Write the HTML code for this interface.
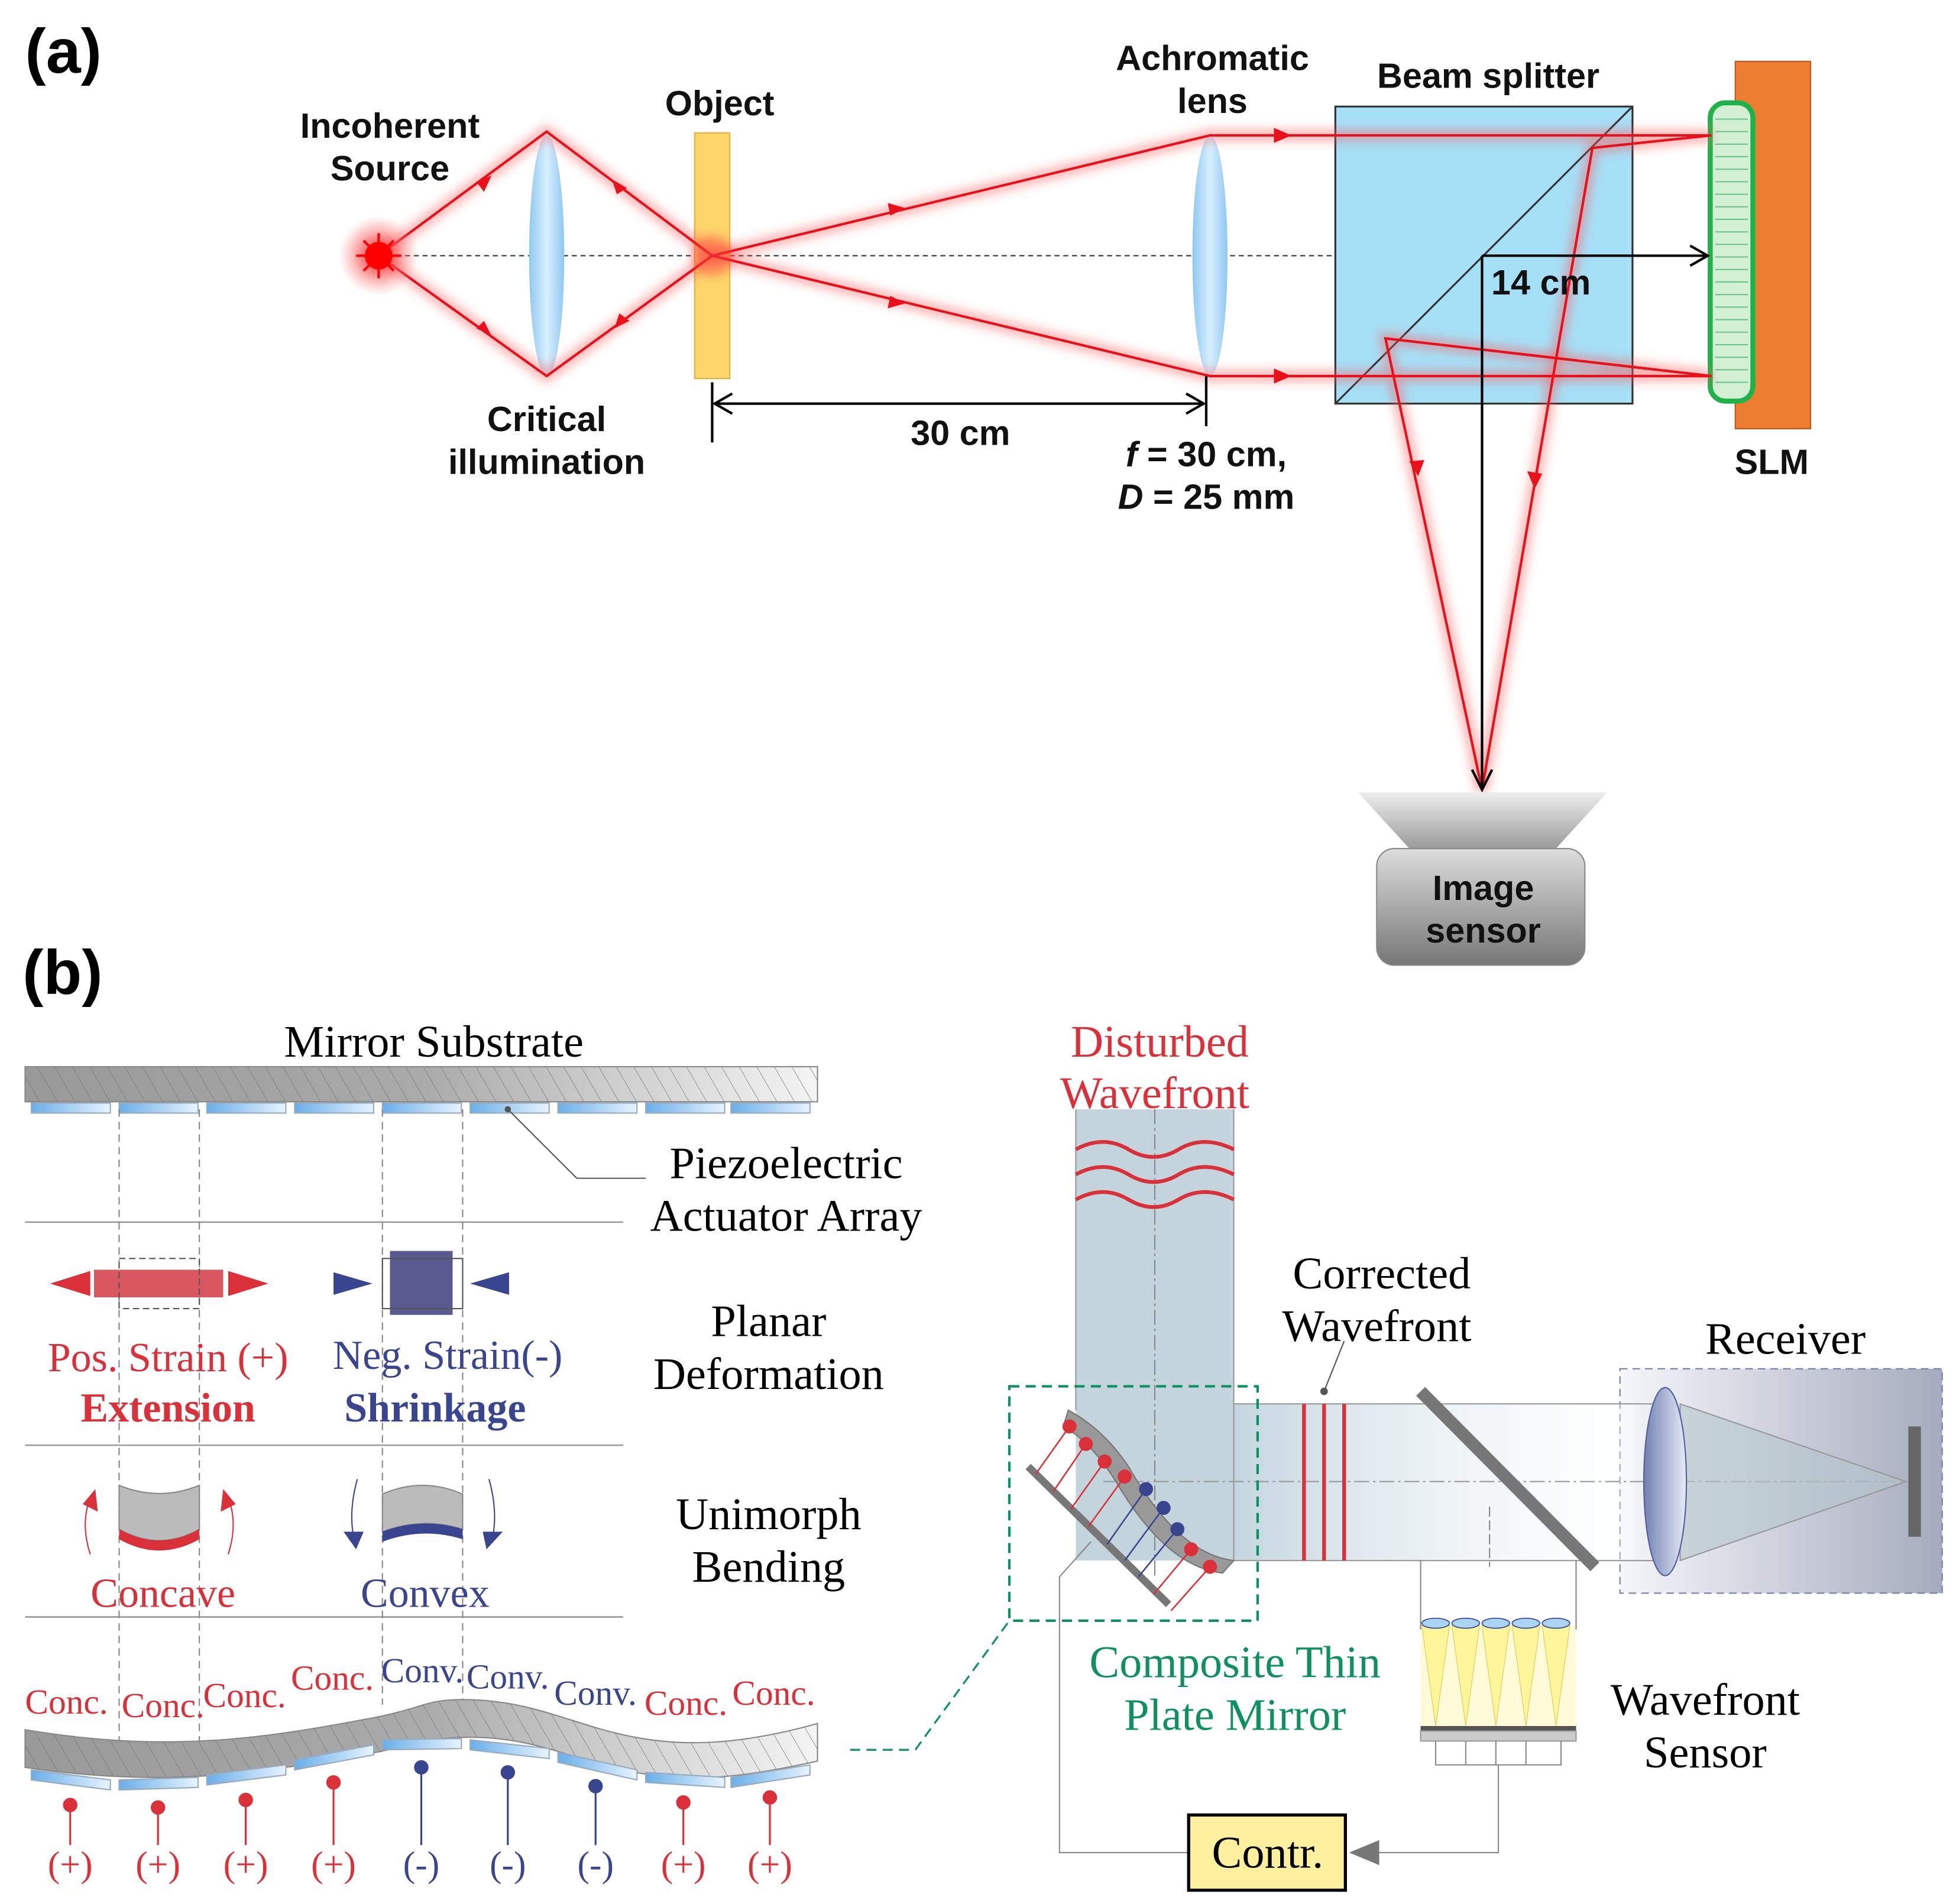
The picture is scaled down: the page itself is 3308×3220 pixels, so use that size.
<!DOCTYPE html>
<html><head><meta charset="utf-8"><style>html,body{margin:0;padding:0;background:#fff}svg{display:block}</style></head>
<body>
<svg width="3308" height="3220" viewBox="0 0 1560 1519" preserveAspectRatio="none" xmlns="http://www.w3.org/2000/svg">
<defs>
<filter id="glow" x="-20%" y="-20%" width="140%" height="140%"><feGaussianBlur stdDeviation="4"/></filter>
<radialGradient id="src"><stop offset="0" stop-color="#f00"/><stop offset="0.5" stop-color="#f55" stop-opacity="0.6"/><stop offset="1" stop-color="#f88" stop-opacity="0"/></radialGradient>
<linearGradient id="lens" x1="0" x2="1"><stop offset="0" stop-color="#8fc8f0"/><stop offset="0.5" stop-color="#d8f0ff"/><stop offset="1" stop-color="#8fc8f0"/></linearGradient>
<linearGradient id="sens" x1="0" y1="0" x2="0" y2="1"><stop offset="0" stop-color="#ddd"/><stop offset="1" stop-color="#777"/></linearGradient>
<linearGradient id="sens2" x1="0" y1="0" x2="0" y2="1"><stop offset="0" stop-color="#eee"/><stop offset="1" stop-color="#999"/></linearGradient>
<linearGradient id="sub" x1="0" x2="1"><stop offset="0" stop-color="#999"/><stop offset="0.5" stop-color="#aaa"/><stop offset="1" stop-color="#f4f4f4"/></linearGradient>
<linearGradient id="act" x1="0" x2="1"><stop offset="0" stop-color="#6aaee8"/><stop offset="1" stop-color="#e8f4ff"/></linearGradient>
<pattern id="hatch" width="14" height="30" patternUnits="userSpaceOnUse" patternTransform="skewX(30)"><line x1="0" y1="0" x2="0" y2="30" stroke="#777" stroke-width="0.8"/></pattern>
<linearGradient id="beam" x1="0" x2="1"><stop offset="0" stop-color="#c4d6e0"/><stop offset="1" stop-color="#ffffff" stop-opacity="0.3"/></linearGradient>
<linearGradient id="recv" x1="0" x2="1"><stop offset="0" stop-color="#f4f6fa"/><stop offset="1" stop-color="#a6abbd"/></linearGradient>
<linearGradient id="rlens" x1="0" x2="1"><stop offset="0" stop-color="#7080b0"/><stop offset="1" stop-color="#e8ecf8"/></linearGradient>
</defs>

<!-- ============ (a) ============ -->
<text x="20" y="58" font-family="Liberation Sans, sans-serif" font-weight="bold" font-size="50">(a)</text>
<line x1="302" y1="204" x2="1365" y2="204" stroke="#333" stroke-width="1" stroke-dasharray="4,3"/>
<ellipse cx="436" cy="204" rx="14" ry="96" fill="url(#lens)"/>
<ellipse cx="965" cy="204" rx="14" ry="96" fill="url(#lens)"/>
<rect x="554" y="106" width="28" height="196" fill="#fdd66b" stroke="#e0b040"/>
<rect x="1065" y="85" width="237" height="237" fill="#a6e0f7" stroke="#333" stroke-width="1.5"/>
<line x1="1065" y1="322" x2="1302" y2="85" stroke="#333" stroke-width="1.5"/>
<rect x="1384" y="49" width="60" height="293" fill="#ed7d31" stroke="#b85a20"/>
<rect x="1364" y="82" width="34" height="238" rx="12" fill="#d4f0d4" stroke="#1fb24a" stroke-width="4"/>
<g stroke="#6cc48a" stroke-width="1">
<line x1="1368" y1="95" x2="1394" y2="95"/><line x1="1368" y1="105" x2="1394" y2="105"/><line x1="1368" y1="115" x2="1394" y2="115"/><line x1="1368" y1="125" x2="1394" y2="125"/><line x1="1368" y1="135" x2="1394" y2="135"/><line x1="1368" y1="145" x2="1394" y2="145"/><line x1="1368" y1="155" x2="1394" y2="155"/><line x1="1368" y1="165" x2="1394" y2="165"/><line x1="1368" y1="175" x2="1394" y2="175"/><line x1="1368" y1="185" x2="1394" y2="185"/><line x1="1368" y1="195" x2="1394" y2="195"/><line x1="1368" y1="205" x2="1394" y2="205"/><line x1="1368" y1="215" x2="1394" y2="215"/><line x1="1368" y1="225" x2="1394" y2="225"/><line x1="1368" y1="235" x2="1394" y2="235"/><line x1="1368" y1="245" x2="1394" y2="245"/><line x1="1368" y1="255" x2="1394" y2="255"/><line x1="1368" y1="265" x2="1394" y2="265"/><line x1="1368" y1="275" x2="1394" y2="275"/><line x1="1368" y1="285" x2="1394" y2="285"/><line x1="1368" y1="295" x2="1394" y2="295"/><line x1="1368" y1="305" x2="1394" y2="305"/></g>
<g fill="none" stroke="#ff5050" stroke-width="9" stroke-opacity="0.45" filter="url(#glow)">
<polyline points="302,204 436,105 568,204 965,108 1365,108 1270,118 1182,630"/>
<polyline points="302,204 436,300 568,204 965,300 1365,300 1105,270 1182,630"/>
</g>
<g fill="none" stroke="#e8101a" stroke-width="2">
<polyline points="302,204 436,105 568,204 965,108 1365,108 1270,118 1182,630"/>
<polyline points="302,204 436,300 568,204 965,300 1365,300 1105,270 1182,630"/>
</g>
<g fill="#e8101a">
<polygon points="392,140 380,145 386,153"/><polygon points="500,150 488,143 492,155"/>
<polygon points="392,268 386,256 380,262"/><polygon points="502,256 490,262 494,250"/>
<polygon points="722,166 708,162 710,172"/><polygon points="722,242 710,236 708,246"/>
<polygon points="1030,108 1016,102 1016,114"/><polygon points="1030,300 1016,294 1016,306"/>
<polygon points="1224,390 1218,376 1230,378"/><polygon points="1131,380 1124,368 1136,367"/>
</g>
<circle cx="302" cy="204" r="32" fill="url(#src)"/>
<circle cx="302" cy="204" r="11" fill="#f00"/>
<g stroke="#f00" stroke-width="2"><line x1="302" y1="186" x2="302" y2="222"/><line x1="284" y1="204" x2="320" y2="204"/><line x1="290" y1="192" x2="314" y2="216"/><line x1="314" y1="192" x2="290" y2="216"/></g>
<circle cx="568" cy="204" r="16" fill="#ff4040" opacity="0.5" filter="url(#glow)"/>
<line x1="1182" y1="204" x2="1360" y2="204" stroke="#000" stroke-width="2"/>
<polyline points="1348,196 1362,204 1348,212" fill="none" stroke="#000" stroke-width="2"/>
<line x1="1182" y1="204" x2="1182" y2="628" stroke="#000" stroke-width="2"/>
<polyline points="1174,614 1182,630 1190,614" fill="none" stroke="#000" stroke-width="2"/>
<line x1="568" y1="305" x2="568" y2="353" stroke="#000" stroke-width="2"/>
<line x1="962" y1="300" x2="962" y2="340" stroke="#000" stroke-width="2"/>
<line x1="570" y1="322" x2="960" y2="322" stroke="#000" stroke-width="2"/>
<polyline points="584,314 570,322 584,330" fill="none" stroke="#000" stroke-width="2"/>
<polyline points="946,314 960,322 946,330" fill="none" stroke="#000" stroke-width="2"/>
<polygon points="1083,632 1282,632 1240,678 1125,678" fill="url(#sens2)"/>
<rect x="1098" y="677" width="166" height="93" rx="14" fill="url(#sens)" stroke="#888"/>
<g font-family="Liberation Sans, sans-serif" font-weight="bold" font-size="28" text-anchor="middle" fill="#111">
<text x="311" y="110">Incoherent</text><text x="311" y="144">Source</text>
<text x="574" y="92">Object</text>
<text x="967" y="56">Achromatic</text><text x="967" y="90">lens</text>
<text x="1187" y="70">Beam splitter</text>
<text x="436" y="344">Critical</text><text x="436" y="378">illumination</text>
<text x="766" y="355">30 cm</text>
<text x="1229" y="235">14 cm</text>
<text x="1413" y="378">SLM</text>
<text x="962" y="372"><tspan font-style="italic">f</tspan> = 30 cm,</text>
<text x="962" y="406"><tspan font-style="italic">D</tspan> = 25 mm</text>
<text x="1183" y="718">Image</text><text x="1183" y="752">sensor</text>
</g>

<!-- ============ (b) ============ -->
<text x="18" y="793" font-family="Liberation Sans, sans-serif" font-weight="bold" font-size="50">(b)</text>
<rect x="20" y="851" width="632" height="28" fill="url(#sub)" stroke="#888"/>
<rect x="20" y="851" width="632" height="28" fill="url(#hatch)"/>
<g fill="url(#act)" stroke="#9ab">
<rect x="25" y="880" width="63" height="8"/><rect x="95" y="880" width="63" height="8"/><rect x="165" y="880" width="63" height="8"/><rect x="235" y="880" width="63" height="8"/><rect x="305" y="880" width="63" height="8"/><rect x="375" y="880" width="63" height="8"/><rect x="445" y="880" width="63" height="8"/><rect x="515" y="880" width="63" height="8"/><rect x="583" y="880" width="63" height="8"/></g>
<polyline points="405,885 460,940 515,940" fill="none" stroke="#555"/>
<circle cx="405" cy="885" r="2.5" fill="#555"/>
<g stroke="#999" stroke-width="1.2"><line x1="20" y1="975" x2="497" y2="975"/><line x1="20" y1="1153" x2="497" y2="1153"/><line x1="20" y1="1290" x2="497" y2="1290"/></g>
<g stroke="#888" stroke-dasharray="6,4"><line x1="95" y1="885" x2="95" y2="1392"/><line x1="159" y1="885" x2="159" y2="1392"/><line x1="305" y1="885" x2="305" y2="1360"/><line x1="369" y1="885" x2="369" y2="1360"/></g>
<rect x="75" y="1013" width="103" height="22" fill="#d9575f"/>
<rect x="95" y="1004" width="64" height="40" fill="none" stroke="#555" stroke-dasharray="5,3"/>
<polygon points="40,1024 72,1014 72,1034" fill="#d9303a"/><polygon points="214,1024 182,1014 182,1034" fill="#d9303a"/>
<rect x="311" y="998" width="50" height="51" fill="#5a5a90"/>
<rect x="305" y="1004" width="64" height="40" fill="none" stroke="#555"/>
<polygon points="297,1024 266,1015 266,1033" fill="#3a4590"/><polygon points="375,1024 406,1015 406,1033" fill="#3a4590"/>
<path d="M95,1185 Q127,1198 159,1185 L159,1220 Q127,1238 95,1220 Z" fill="#bbb" stroke="#888"/>
<path d="M95,1220 Q127,1238 159,1220 L159,1228 Q127,1246 95,1228 Z" fill="#d9303a"/>
<path d="M72,1240 Q64,1215 72,1195" fill="none" stroke="#d9303a"/><polygon points="76,1188 66,1200 78,1206" fill="#d9303a"/>
<path d="M182,1240 Q190,1215 182,1195" fill="none" stroke="#d9303a"/><polygon points="178,1188 188,1200 176,1206" fill="#d9303a"/>
<path d="M305,1192 Q337,1178 369,1192 L369,1220 Q337,1210 305,1222 Z" fill="#bbb" stroke="#888"/>
<path d="M305,1222 Q337,1210 369,1220 L369,1228 Q337,1218 305,1230 Z" fill="#3a4590"/>
<path d="M285,1180 Q278,1205 282,1226" fill="none" stroke="#3a4590"/><polygon points="274,1222 290,1222 284,1236" fill="#3a4590"/>
<path d="M390,1180 Q397,1205 393,1226" fill="none" stroke="#3a4590"/><polygon points="385,1222 401,1222 388,1236" fill="#3a4590"/>
<path d="M20,1380 C140,1400 220,1385 300,1370 C340,1362 340,1355 375,1356 C440,1358 470,1386 540,1390 C580,1392 620,1384 652,1375 L652,1405 C620,1412 580,1420 540,1418 C470,1414 440,1386 375,1386 C340,1386 330,1392 300,1398 C220,1412 140,1428 20,1410 Z" fill="url(#sub)" stroke="#888"/>
<path d="M20,1380 C140,1400 220,1385 300,1370 C340,1362 340,1355 375,1356 C440,1358 470,1386 540,1390 C580,1392 620,1384 652,1375 L652,1405 C620,1412 580,1420 540,1418 C470,1414 440,1386 375,1386 C340,1386 330,1392 300,1398 C220,1412 140,1428 20,1410 Z" fill="url(#hatch)"/>
<g fill="url(#act)" stroke="#9ab">
<path d="M25,1412 L88,1420 L88,1428 L25,1420Z"/><path d="M95,1420 L158,1418 L158,1426 L95,1428Z"/><path d="M165,1416 L228,1408 L228,1416 L165,1424Z"/><path d="M235,1404 L298,1392 L298,1400 L235,1412Z"/><path d="M305,1388 L368,1387 L368,1395 L305,1396Z"/><path d="M375,1388 L438,1395 L438,1403 L375,1396Z"/><path d="M445,1398 L508,1412 L508,1420 L445,1406Z"/><path d="M515,1414 L578,1418 L578,1426 L515,1422Z"/><path d="M583,1418 L646,1408 L646,1416 L583,1426Z"/></g>
<g font-family="Liberation Serif, serif" font-size="28">
<text x="20" y="1367" fill="#d9303a">Conc.</text><text x="97" y="1370" fill="#d9303a">Conc.</text><text x="162" y="1362" fill="#d9303a">Conc.</text><text x="232" y="1348" fill="#d9303a">Conc.</text>
<text x="304" y="1342" fill="#3a4590">Conv.</text><text x="372" y="1347" fill="#3a4590">Conv.</text><text x="442" y="1360" fill="#3a4590">Conv.</text>
<text x="514" y="1368" fill="#d9303a">Conc.</text><text x="584" y="1360" fill="#d9303a">Conc.</text>
</g>
<g stroke-width="1.5">
<g stroke="#d9303a" fill="#d9303a"><line x1="56" y1="1440" x2="56" y2="1472"/><circle cx="56" cy="1440" r="5"/><line x1="126" y1="1442" x2="126" y2="1472"/><circle cx="126" cy="1442" r="5"/><line x1="196" y1="1436" x2="196" y2="1472"/><circle cx="196" cy="1436" r="5"/><line x1="266" y1="1422" x2="266" y2="1472"/><circle cx="266" cy="1422" r="5"/><line x1="545" y1="1438" x2="545" y2="1472"/><circle cx="545" cy="1438" r="5"/><line x1="614" y1="1434" x2="614" y2="1472"/><circle cx="614" cy="1434" r="5"/></g>
<g stroke="#3a4590" fill="#3a4590"><line x1="336" y1="1410" x2="336" y2="1472"/><circle cx="336" cy="1410" r="5"/><line x1="405" y1="1414" x2="405" y2="1472"/><circle cx="405" cy="1414" r="5"/><line x1="475" y1="1425" x2="475" y2="1472"/><circle cx="475" cy="1425" r="5"/></g>
</g>
<g font-family="Liberation Serif, serif" font-size="29" text-anchor="middle">
<text x="56" y="1497" fill="#d9303a">(+)</text><text x="126" y="1497" fill="#d9303a">(+)</text><text x="196" y="1497" fill="#d9303a">(+)</text><text x="266" y="1497" fill="#d9303a">(+)</text>
<text x="336" y="1497" fill="#3a4590">(-)</text><text x="405" y="1497" fill="#3a4590">(-)</text><text x="475" y="1497" fill="#3a4590">(-)</text>
<text x="545" y="1497" fill="#d9303a">(+)</text><text x="614" y="1497" fill="#d9303a">(+)</text>
</g>
<!-- right setup -->
<rect x="1292" y="1092" width="257" height="179" fill="url(#recv)" stroke="#7080a8" stroke-dasharray="6,4"/>
<rect x="858" y="885" width="126" height="360" fill="#c4d4dc"/>
<rect x="984" y="1120" width="320" height="125" fill="url(#beam)"/>
<g stroke="#999" fill="none"><line x1="984" y1="1120" x2="1330" y2="1120"/><line x1="984" y1="1245" x2="1330" y2="1245"/><line x1="858" y1="885" x2="858" y2="1125"/><line x1="984" y1="885" x2="984" y2="1245"/></g>
<line x1="921" y1="885" x2="921" y2="1260" stroke="#888" stroke-dasharray="12,3,2,3"/>
<line x1="880" y1="1182" x2="1520" y2="1182" stroke="#999" stroke-dasharray="12,3,2,3"/>
<g fill="none" stroke="#d9303a" stroke-width="3">
<path d="M858,917 Q880,905 900,917 T940,917 T984,917"/><path d="M858,937 Q880,925 900,937 T940,937 T984,937"/><path d="M858,957 Q880,945 900,957 T940,957 T984,957"/>
<line x1="1040" y1="1120" x2="1040" y2="1245"/><line x1="1056" y1="1120" x2="1056" y2="1245"/><line x1="1072" y1="1120" x2="1072" y2="1245"/></g>
<line x1="1056" y1="1110" x2="1072" y2="1070" stroke="#555"/><circle cx="1056" cy="1110" r="3" fill="#555"/>
<polygon points="1340,1120 1520,1182 1340,1245" fill="#b4c4cc" fill-opacity="0.6" stroke="#999"/>
<ellipse cx="1328" cy="1182" rx="17" ry="75" fill="url(#rlens)" stroke="#5060a0"/>
<rect x="1522" y="1138" width="10" height="88" fill="#666"/>
<line x1="1133" y1="1110" x2="1272" y2="1250" stroke="#777" stroke-width="10"/>
<path d="M852,1125 Q880,1140 900,1170 Q940,1240 984,1245 L975,1255 Q930,1250 890,1182 Q870,1150 848,1138Z" fill="#999" stroke="#777"/>
<line x1="820" y1="1170" x2="932" y2="1280" stroke="#777" stroke-width="6"/>
<g stroke-width="1.2">
<g stroke="#d9303a" fill="#d9303a"><line x1="853" y1="1138" x2="826" y2="1176"/><circle cx="853" cy="1138" r="5"/><line x1="866" y1="1152" x2="840" y2="1190"/><circle cx="866" cy="1152" r="5"/><line x1="881" y1="1166" x2="854" y2="1204"/><circle cx="881" cy="1166" r="5"/><line x1="897" y1="1178" x2="868" y2="1218"/><circle cx="897" cy="1178" r="5"/><line x1="950" y1="1236" x2="920" y2="1272"/><circle cx="950" cy="1236" r="5"/><line x1="965" y1="1250" x2="934" y2="1285"/><circle cx="965" cy="1250" r="5"/></g>
<g stroke="#3a4590" fill="#3a4590"><line x1="914" y1="1188" x2="883" y2="1232"/><circle cx="914" cy="1188" r="5"/><line x1="928" y1="1203" x2="897" y2="1245"/><circle cx="928" cy="1203" r="5"/><line x1="939" y1="1220" x2="908" y2="1258"/><circle cx="939" cy="1220" r="5"/></g>
</g>
<rect x="805" y="1106" width="198" height="187" fill="none" stroke="#109060" stroke-width="2" stroke-dasharray="8,5"/>
<polyline points="678,1396 730,1396 805,1293" fill="none" stroke="#109060" stroke-width="1.5" stroke-dasharray="8,5"/>
<g>
<rect x="1133" y="1297" width="124" height="80" fill="#fff8c8" opacity="0.7"/>
<g fill="#fff59a" stroke="#e0d060" stroke-width="0.6"><polygon points="1134,1297 1156,1297 1145,1377"/><polygon points="1158,1297 1180,1297 1169,1377"/><polygon points="1182,1297 1204,1297 1193,1377"/><polygon points="1206,1297 1228,1297 1217,1377"/><polygon points="1230,1297 1252,1297 1241,1377"/></g>
<g fill="#aad4f4" stroke="#3a4590" stroke-width="0.8"><ellipse cx="1145" cy="1295" rx="11" ry="4"/><ellipse cx="1169" cy="1295" rx="11" ry="4"/><ellipse cx="1193" cy="1295" rx="11" ry="4"/><ellipse cx="1217" cy="1295" rx="11" ry="4"/><ellipse cx="1241" cy="1295" rx="11" ry="4"/></g>
<rect x="1133" y="1377" width="124" height="4" fill="#555"/><rect x="1133" y="1381" width="124" height="8" fill="#ccc" stroke="#999"/>
<g stroke="#888" fill="none"><line x1="1133" y1="1245" x2="1133" y2="1300"/><line x1="1257" y1="1245" x2="1257" y2="1300"/><polyline points="1145,1389 1145,1408 1245,1408 1245,1389"/><line x1="1169" y1="1389" x2="1169" y2="1408"/><line x1="1193" y1="1389" x2="1193" y2="1408"/><line x1="1217" y1="1389" x2="1217" y2="1408"/><polyline points="1195,1408 1195,1478 1100,1478"/><polyline points="948,1478 845,1478 845,1258 870,1230"/><line x1="1188" y1="1202" x2="1188" y2="1250" stroke-dasharray="8,3"/></g>
<polygon points="1076,1478 1100,1468 1100,1488" fill="#777"/>
</g>
<rect x="948" y="1448" width="125" height="60" fill="#fff0a0" stroke="#000" stroke-width="2.5"/>
<g font-family="Liberation Serif, serif" font-size="36" text-anchor="middle">
<text x="1011" y="1490">Contr.</text>
<text x="346" y="843">Mirror Substrate</text>
<text x="627" y="940">Piezoelectric</text><text x="627" y="982">Actuator Array</text>
<text x="613" y="1066">Planar</text><text x="613" y="1108">Deformation</text>
<text x="613" y="1220">Unimorph</text><text x="613" y="1262">Bending</text>
<text x="925" y="843" fill="#d9303a">Disturbed</text><text x="921" y="884" fill="#d9303a">Wavefront</text>
<text x="1102" y="1028">Corrected</text><text x="1098" y="1070">Wavefront</text>
<text x="1424" y="1080">Receiver</text>
<text x="985" y="1338" fill="#109060">Composite Thin</text><text x="985" y="1380" fill="#109060">Plate Mirror</text>
<text x="1360" y="1368">Wavefront</text><text x="1360" y="1410">Sensor</text>
</g>
<g font-family="Liberation Serif, serif" font-size="33" text-anchor="middle">
<text x="134" y="1094" fill="#d9303a">Pos. Strain (+)</text>
<text x="134" y="1134" fill="#d9303a" font-weight="bold">Extension</text>
<text x="357" y="1092" fill="#3a4590">Neg. Strain(-)</text>
<text x="347" y="1134" fill="#3a4590" font-weight="bold">Shrinkage</text>
<text x="130" y="1282" fill="#d9303a">Concave</text>
<text x="339" y="1282" fill="#3a4590">Convex</text>
</g>
</svg>
</body></html>
